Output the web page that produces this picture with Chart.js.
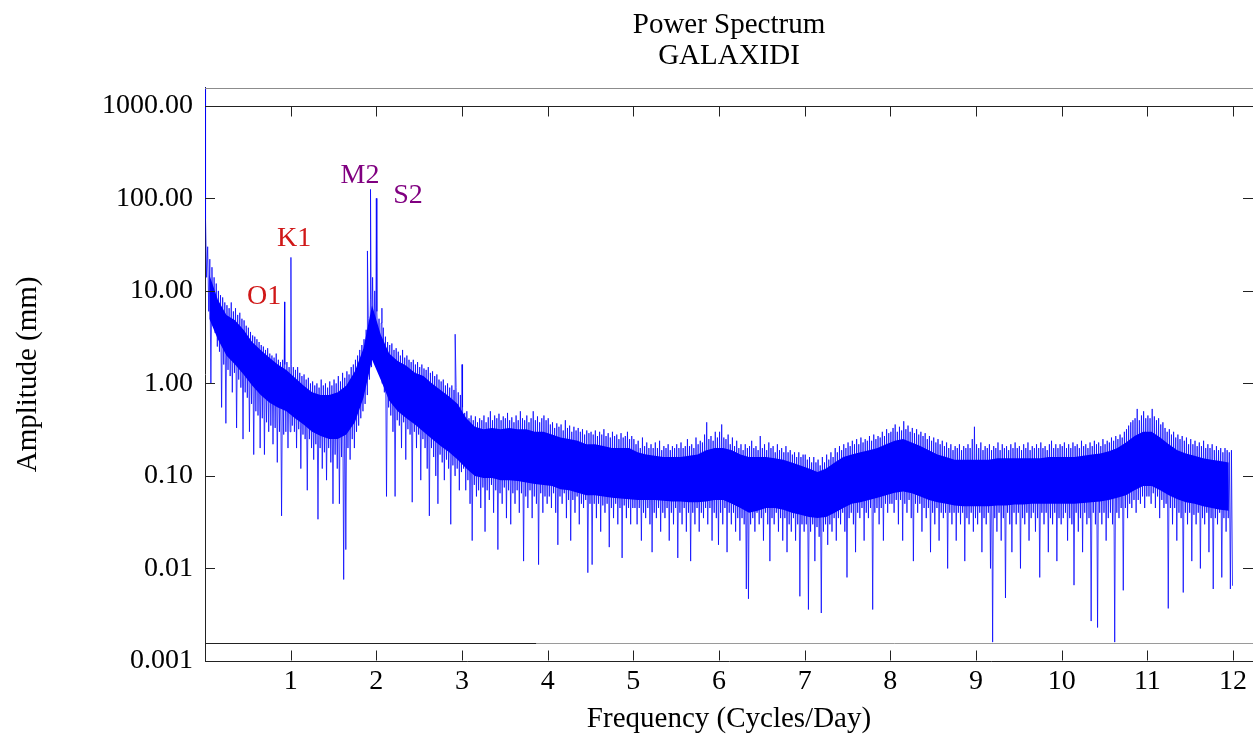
<!DOCTYPE html>
<html>
<head>
<meta charset="utf-8">
<title>Power Spectrum - GALAXIDI</title>
<script src="https://cdn.jsdelivr.net/npm/chart.js@4.4.1/dist/chart.umd.min.js"></script>
<style>
    html, body { margin: 0; padding: 0; background: #fff; }
    canvas { display: block; }
</style>
</head>
<body>
<canvas id="spectrum-chart" width="1253" height="737"></canvas>
<script>
// Values alternate between the upper fringe of the noise and its downward spikes.
var freqStep = 0.0125;
var amp0 = [60, 14, 30, 6, 22, 1.0, 18, 4.5, 14, 3.5, 12, 2.5, 10, 2.2, 9, 0.55, 8.5, 1.6, 7.5, 0.37,
            7, 1.4, 6.5, 1.2, 7.5, 0.8, 6, 1.3, 6.5, 0.33, 5.5, 1.1, 5.8, 0.9, 5, 0.25, 4.8, 0.8, 4.2, 0.7,
            4, 0.3, 3.6, 0.6, 3.3, 0.17, 3.2, 0.5, 3, 0.45, 2.8, 0.2, 2.6, 0.42, 2.5, 0.17, 2.3, 0.38, 2.4, 0.3,
            2.1, 0.35, 2.0, 0.22, 1.9, 0.33, 2.1, 0.14, 1.8, 0.3, 1.7, 0.037, 1.8, 0.28, 1.6, 0.3, 1.7, 0.2, 1.5, 0.3];
var amp1 = [1.6, 0.35, 1.5, 0.3, 1.4, 0.2, 1.5, 0.32, 1.3, 0.12, 1.2, 0.28, 1.25, 0.25, 1.1, 0.07, 1.15, 0.25, 1.0, 0.2,
            1.05, 0.15, 0.95, 0.22, 1.0, 0.034, 0.9, 0.2, 1.1, 0.12, 0.95, 0.18, 1.0, 0.09, 0.9, 0.2, 1.05, 0.14, 0.95, 0.05,
            1.1, 0.17, 1.0, 0.12, 1.2, 0.05, 1.05, 0.16, 1.3, 0.0076, 1.15, 0.016, 1.35, 0.2, 1.25, 0.15, 1.5, 0.25, 1.6, 0.2,
            1.8, 0.3, 2.0, 0.35, 2.3, 0.42, 2.6, 0.5, 3.0, 0.6, 3.8, 0.75, 5, 1.1, 8, 1.5, 14, 2.0, 10, 2.5];
var amp2 = [6, 2.0, 5, 1.4, 4.5, 1.0, 4, 0.8, 3.2, 0.06, 2.8, 0.55, 2.6, 0.45, 2.7, 0.3, 2.3, 0.06, 2.4, 0.4,
            2.2, 0.35, 2.0, 0.2, 2.3, 0.38, 1.9, 0.15, 2.0, 0.32, 1.8, 0.28, 1.7, 0.052, 1.8, 0.3, 1.6, 0.2, 1.7, 0.28,
            1.5, 0.09, 1.6, 0.25, 1.45, 0.2, 1.4, 0.12, 1.5, 0.037, 1.3, 0.2, 1.35, 0.16, 1.2, 0.1, 1.25, 0.05, 1.1, 0.17,
            1.05, 0.14, 1.1, 0.09, 0.95, 0.15, 1.0, 0.12, 0.9, 0.03, 0.95, 0.13, 0.85, 0.1, 0.9, 0.12, 0.8, 0.07, 0.75, 0.11];
var amp3 = [0.55, 0.12, 0.48, 0.07, 0.5, 0.09, 0.42, 0.05, 0.45, 0.02, 0.4, 0.08, 0.44, 0.06, 0.38, 0.07, 0.42, 0.045, 0.4, 0.075,
            0.45, 0.025, 0.38, 0.07, 0.43, 0.055, 0.5, 0.08, 0.4, 0.04, 0.45, 0.07, 0.42, 0.016, 0.47, 0.065, 0.4, 0.05, 0.44, 0.075,
            0.42, 0.035, 0.48, 0.07, 0.4, 0.03, 0.43, 0.065, 0.38, 0.05, 0.45, 0.07, 0.4, 0.04, 0.5, 0.065, 0.42, 0.012, 0.4, 0.06,
            0.45, 0.045, 0.38, 0.07, 0.42, 0.035, 0.5, 0.06, 0.4, 0.05, 0.44, 0.011, 0.38, 0.065, 0.42, 0.04, 0.45, 0.06, 0.4, 0.05];
var amp4 = [0.42, 0.06, 0.36, 0.045, 0.38, 0.065, 0.33, 0.04, 0.37, 0.018, 0.34, 0.06, 0.36, 0.05, 0.31, 0.065, 0.4, 0.035, 0.33, 0.055,
            0.35, 0.02, 0.3, 0.055, 0.34, 0.04, 0.31, 0.06, 0.33, 0.03, 0.3, 0.05, 0.32, 0.045, 0.28, 0.055, 0.31, 0.009, 0.29, 0.05,
            0.3, 0.011, 0.28, 0.05, 0.31, 0.035, 0.27, 0.05, 0.3, 0.025, 0.28, 0.048, 0.32, 0.04, 0.27, 0.05, 0.29, 0.017, 0.26, 0.045,
            0.3, 0.035, 0.27, 0.05, 0.28, 0.03, 0.25, 0.045, 0.29, 0.013, 0.26, 0.048, 0.27, 0.035, 0.3, 0.045, 0.25, 0.03, 0.27, 0.045];
var amp5 = [0.25, 0.045, 0.22, 0.03, 0.24, 0.045, 0.2, 0.02, 0.26, 0.04, 0.21, 0.035, 0.23, 0.045, 0.2, 0.03, 0.22, 0.015, 0.2, 0.04,
            0.23, 0.035, 0.2, 0.045, 0.24, 0.025, 0.19, 0.04, 0.21, 0.035, 0.2, 0.045, 0.22, 0.02, 0.19, 0.04, 0.21, 0.03, 0.2, 0.045,
            0.22, 0.013, 0.2, 0.04, 0.23, 0.03, 0.2, 0.045, 0.21, 0.025, 0.25, 0.04, 0.21, 0.012, 0.22, 0.04, 0.2, 0.03, 0.26, 0.045,
            0.22, 0.025, 0.24, 0.04, 0.23, 0.035, 0.28, 0.045, 0.38, 0.03, 0.25, 0.045, 0.27, 0.02, 0.24, 0.04, 0.3, 0.035, 0.26, 0.018];
var amp6 = [0.3, 0.04, 0.36, 0.03, 0.26, 0.045, 0.25, 0.015, 0.28, 0.04, 0.22, 0.03, 0.26, 0.04, 0.21, 0.025, 0.24, 0.035, 0.2, 0.02,
            0.22, 0.035, 0.19, 0.03, 0.22, 0.006, 0.2, 0.0047, 0.21, 0.03, 0.24, 0.035, 0.2, 0.025, 0.21, 0.04, 0.19, 0.03, 0.27, 0.035,
            0.2, 0.02, 0.22, 0.04, 0.19, 0.03, 0.23, 0.012, 0.2, 0.035, 0.21, 0.03, 0.18, 0.04, 0.22, 0.025, 0.19, 0.035, 0.2, 0.02,
            0.18, 0.035, 0.21, 0.015, 0.18, 0.03, 0.19, 0.025, 0.17, 0.035, 0.18, 0.02, 0.16, 0.03, 0.18, 0.005, 0.16, 0.03, 0.17, 0.025];
var amp7 = [0.17, 0.03, 0.15, 0.0036, 0.16, 0.025, 0.14, 0.03, 0.16, 0.012, 0.14, 0.028, 0.15, 0.022, 0.13, 0.0033, 0.16, 0.025, 0.14, 0.03,
            0.17, 0.018, 0.15, 0.03, 0.18, 0.025, 0.16, 0.035, 0.2, 0.02, 0.18, 0.035, 0.21, 0.03, 0.19, 0.04, 0.22, 0.025, 0.2, 0.008,
            0.23, 0.035, 0.21, 0.04, 0.24, 0.03, 0.22, 0.015, 0.25, 0.04, 0.22, 0.035, 0.26, 0.045, 0.23, 0.02, 0.25, 0.04, 0.24, 0.035,
            0.27, 0.045, 0.24, 0.0036, 0.28, 0.04, 0.25, 0.045, 0.27, 0.03, 0.26, 0.045, 0.3, 0.02, 0.27, 0.05, 0.32, 0.04, 0.29, 0.05];
var amp8 = [0.3, 0.05, 0.33, 0.04, 0.36, 0.055, 0.3, 0.03, 0.34, 0.055, 0.31, 0.02, 0.39, 0.05, 0.32, 0.04, 0.35, 0.055, 0.3, 0.035,
            0.33, 0.012, 0.29, 0.05, 0.32, 0.04, 0.28, 0.05, 0.3, 0.025, 0.27, 0.045, 0.29, 0.035, 0.25, 0.045, 0.27, 0.015, 0.24, 0.04,
            0.26, 0.03, 0.23, 0.045, 0.25, 0.02, 0.22, 0.04, 0.24, 0.035, 0.21, 0.04, 0.23, 0.01, 0.2, 0.04, 0.22, 0.03, 0.19, 0.04,
            0.21, 0.02, 0.2, 0.04, 0.22, 0.03, 0.19, 0.04, 0.21, 0.012, 0.2, 0.035, 0.22, 0.03, 0.2, 0.04, 0.25, 0.025, 0.34, 0.035];
var amp9 = [0.22, 0.03, 0.2, 0.04, 0.23, 0.015, 0.19, 0.035, 0.21, 0.03, 0.2, 0.04, 0.22, 0.01, 0.19, 0.0016, 0.21, 0.035, 0.2, 0.025,
            0.23, 0.04, 0.19, 0.02, 0.22, 0.035, 0.2, 0.0048, 0.21, 0.04, 0.19, 0.03, 0.22, 0.015, 0.2, 0.04, 0.23, 0.03, 0.2, 0.04,
            0.21, 0.01, 0.19, 0.035, 0.22, 0.03, 0.2, 0.04, 0.23, 0.02, 0.19, 0.035, 0.21, 0.04, 0.2, 0.025, 0.22, 0.035, 0.2, 0.008,
            0.23, 0.04, 0.2, 0.03, 0.21, 0.04, 0.19, 0.015, 0.22, 0.035, 0.24, 0.03, 0.2, 0.04, 0.22, 0.012, 0.2, 0.035, 0.22, 0.03];
var amp10 = [0.21, 0.035, 0.23, 0.04, 0.2, 0.02, 0.22, 0.035, 0.2, 0.03, 0.23, 0.0066, 0.21, 0.04, 0.22, 0.025, 0.2, 0.035, 0.24, 0.015,
             0.21, 0.04, 0.22, 0.03, 0.2, 0.035, 0.23, 0.0027, 0.21, 0.04, 0.24, 0.03, 0.22, 0.0023, 0.23, 0.04, 0.21, 0.03, 0.25, 0.04,
             0.22, 0.02, 0.24, 0.035, 0.23, 0.04, 0.26, 0.03, 0.24, 0.0016, 0.27, 0.04, 0.25, 0.035, 0.28, 0.045, 0.26, 0.0058, 0.3, 0.045,
             0.32, 0.035, 0.35, 0.05, 0.38, 0.045, 0.4, 0.055, 0.42, 0.04, 0.53, 0.055, 0.4, 0.05, 0.45, 0.06, 0.5, 0.045, 0.42, 0.06];
var amp11 = [0.45, 0.06, 0.42, 0.05, 0.53, 0.065, 0.44, 0.045, 0.4, 0.06, 0.42, 0.035, 0.36, 0.055, 0.38, 0.045, 0.33, 0.05, 0.3, 0.0037,
             0.32, 0.045, 0.28, 0.03, 0.3, 0.045, 0.26, 0.02, 0.28, 0.04, 0.25, 0.035, 0.27, 0.0055, 0.24, 0.04, 0.26, 0.03, 0.22, 0.04,
             0.25, 0.012, 0.22, 0.038, 0.24, 0.03, 0.21, 0.04, 0.23, 0.01, 0.21, 0.035, 0.24, 0.03, 0.2, 0.04, 0.22, 0.015, 0.2, 0.035,
             0.22, 0.006, 0.19, 0.035, 0.21, 0.03, 0.19, 0.04, 0.2, 0.008, 0.18, 0.035, 0.2, 0.025, 0.19, 0.035, 0.18, 0.006, 0.19, 0.0065];
var ampSegments = [amp0, amp1, amp2, amp3, amp4, amp5, amp6, amp7, amp8, amp9, amp10, amp11];

// the solid core of the noise band, every 0.1 c/d starting at 0.05
var coreStep = 0.1;
var coreTop = [15, 8, 5.5, 4.8, 3.8, 2.8, 2.3, 1.9, 1.6, 1.4,
               1.15, 0.95, 0.8, 0.75, 0.75, 0.8, 0.95, 1.35, 2.4, 7,
               3.4, 2.1, 1.75, 1.55, 1.3, 1.2, 1.0, 0.85, 0.72, 0.6,
               0.42, 0.34, 0.32, 0.33, 0.32, 0.33, 0.32, 0.32, 0.3, 0.3,
               0.28, 0.26, 0.25, 0.24, 0.22, 0.22, 0.21, 0.2, 0.2, 0.2,
               0.18, 0.17, 0.165, 0.16, 0.16, 0.16, 0.165, 0.17, 0.19, 0.2,
               0.2, 0.19, 0.17, 0.16, 0.16, 0.16, 0.155, 0.15, 0.14, 0.13,
               0.12, 0.11, 0.12, 0.14, 0.16, 0.17, 0.18, 0.19, 0.2, 0.22,
               0.24, 0.25, 0.23, 0.21, 0.19, 0.17, 0.16, 0.15, 0.15, 0.15,
               0.15, 0.15, 0.155, 0.155, 0.155, 0.155, 0.155, 0.155, 0.16, 0.16,
               0.16, 0.16, 0.165, 0.17, 0.175, 0.185, 0.2, 0.23, 0.27, 0.3,
               0.3, 0.26, 0.22, 0.19, 0.175, 0.165, 0.155, 0.15, 0.145, 0.14];
var coreBottom = [5, 3, 2.0, 1.6, 1.25, 0.95, 0.75, 0.62, 0.55, 0.5,
                  0.42, 0.36, 0.3, 0.27, 0.25, 0.25, 0.28, 0.38, 0.7, 1.8,
                  1.1, 0.65, 0.5, 0.42, 0.36, 0.3, 0.25, 0.21, 0.18, 0.15,
                  0.12, 0.1, 0.095, 0.095, 0.09, 0.09, 0.088, 0.085, 0.082, 0.08,
                  0.078, 0.072, 0.07, 0.066, 0.062, 0.062, 0.06, 0.058, 0.057, 0.056,
                  0.055, 0.055, 0.055, 0.054, 0.053, 0.053, 0.052, 0.052, 0.053, 0.055,
                  0.055, 0.05, 0.045, 0.04, 0.042, 0.045, 0.045, 0.043, 0.04, 0.038,
                  0.036, 0.035, 0.036, 0.04, 0.045, 0.05, 0.052, 0.055, 0.058, 0.062,
                  0.066, 0.068, 0.065, 0.06, 0.055, 0.052, 0.05, 0.048, 0.047, 0.047,
                  0.047, 0.047, 0.048, 0.048, 0.049, 0.049, 0.05, 0.05, 0.05, 0.05,
                  0.05, 0.05, 0.051, 0.052, 0.053, 0.055, 0.058, 0.062, 0.07, 0.078,
                  0.078, 0.07, 0.062, 0.056, 0.052, 0.05, 0.047, 0.045, 0.043, 0.042];

// narrow lines: the zero-frequency term, O1, K1, N2, M2, S2 and a few smaller spikes
var peakFreqs = [0, 0.929, 1.003, 1.896, 1.932, 2.0, 2.065, 2.92, 3.0];
var peakAmps = [3000, 7.6, 23, 27, 125, 100, 6.5, 3.4, 1.6];

// constituent labels and where they sit (cycles/day, mm)
var constituentNames = ['O1', 'K1', 'M2', 'S2'];
var constituentColors = ['#d01818', '#d01818', '#800080', '#800080'];
var labelFreqs = [0.69, 1.04, 1.81, 2.37];
var labelAmps = [8.7, 37, 177, 108];

var xTickValues = [1, 2, 3, 4, 5, 6, 7, 8, 9, 10, 11, 12];
var yTickValues = [0.001, 0.01, 0.1, 1, 10, 100, 1000];
var yTickLabels = ['0.001', '0.01', '0.10', '1.00', '10.00', '100.00', '1000.00'];

var serif = '"Liberation Serif", "Times New Roman", serif';
Chart.defaults.font.family = serif;
Chart.defaults.color = '#000';

// build the point lists from the arrays above
var points = [];
ampSegments.forEach(function (seg, k) {
    seg.forEach(function (a, i) {
        points.push({ x: k + (i + 0.5) * freqStep, y: a });
    });
});
peakFreqs.forEach(function (f, i) {
    points.push({ x: f, y: peakAmps[i] });
});
points.sort(function (a, b) { return a.x - b.x; });

var corePointsTop = coreTop.map(function (v, i) { return { x: (i + 0.5) * coreStep, y: v }; });
var corePointsBottom = coreBottom.map(function (v, i) { return { x: (i + 0.5) * coreStep, y: v }; });

function hline(c, x1, x2, y) {
    c.beginPath(); c.moveTo(x1, y); c.lineTo(x2, y); c.stroke();
}
function vline(c, x, y1, y2) {
    c.beginPath(); c.moveTo(x, y1); c.lineTo(x, y2); c.stroke();
}

// frame rules, inward ticks and the constituent names
var frameAndLabels = {
    id: 'frameAndLabels',
    afterDatasetsDraw: function (chart) {
        var c = chart.ctx;
        var area = chart.chartArea;
        var xs = chart.scales.x;
        var ys = chart.scales.y;
        var tickLen = 10;
        c.save();
        c.lineWidth = 1;

        c.strokeStyle = '#8c8c8c';
        hline(c, area.left, area.right, Math.round(area.top) + 0.5);

        var yUpper = Math.round(ys.getPixelForValue(1000)) + 0.5;
        var yLower = Math.round(ys.getPixelForValue(0.00157)) + 0.5;
        var xSplit = xs.getPixelForValue(3.87);
        var yBottom = Math.round(area.bottom) - 0.5;

        c.strokeStyle = '#222';
        hline(c, area.left, area.right, yUpper);
        hline(c, area.left, xSplit, yLower);
        xTickValues.forEach(function (v) {
            var x = Math.round(xs.getPixelForValue(v)) + 0.5;
            vline(c, x, yUpper, yUpper + tickLen);
            vline(c, x, yBottom, yBottom - tickLen);
        });
        yTickValues.forEach(function (v) {
            var y = Math.round(ys.getPixelForValue(v)) + 0.5;
            hline(c, area.left, area.left + tickLen, y);
            hline(c, area.right - tickLen, area.right, y);
        });
        c.strokeStyle = '#9a9a9a';
        hline(c, xSplit, area.right, yLower);

        c.font = '28px ' + serif;
        c.textAlign = 'center';
        c.textBaseline = 'middle';
        constituentNames.forEach(function (name, i) {
            c.fillStyle = constituentColors[i];
            c.fillText(name, xs.getPixelForValue(labelFreqs[i]), ys.getPixelForValue(labelAmps[i]));
        });
        c.restore();
    }
};

var ctx = document.getElementById('spectrum-chart').getContext('2d');
var spectrumChart = new Chart(ctx, {
    type: 'line',
    data: {
        datasets: [{
            label: 'Core top',
            data: corePointsTop,
            borderWidth: 0,
            pointRadius: 0,
            fill: false
        }, {
            label: 'Core bottom',
            data: corePointsBottom,
            backgroundColor: 'rgb(0, 0, 255)',
            borderWidth: 0,
            pointRadius: 0,
            fill: '-1'
        }, {
            label: 'Amplitude',
            data: points,
            borderColor: 'rgba(0, 0, 255, 0.75)',
            borderWidth: 1,
            pointRadius: 0,
            tension: 0,
            fill: false
        }]
    },
    options: {
        responsive: false,
        animation: false,
        devicePixelRatio: 1,
        layout: { padding: 0 },
        plugins: {
            legend: { display: false },
            tooltip: { enabled: false },
            title: {
                display: true,
                fullSize: false,
                text: ['Power Spectrum', 'GALAXIDI'],
                color: '#000',
                font: { family: serif, size: 29, weight: 'normal', lineHeight: 1.1 },
                padding: { top: 9, bottom: 15 }
            }
        },
        scales: {
            x: {
                type: 'linear',
                min: 0,
                max: 12.233,
                afterBuildTicks: function (scale) {
                    scale.ticks = xTickValues.map(function (v) { return { value: v }; });
                },
                afterFit: function (scale) { scale.height = 76; },
                grid: { display: false, drawTicks: false },
                border: { display: true, color: '#222', width: 1 },
                ticks: {
                    padding: 4,
                    autoSkip: false,
                    maxRotation: 0,
                    color: '#000',
                    font: { family: serif, size: 28 },
                    callback: function (v) { return String(v); }
                },
                title: {
                    display: true,
                    text: 'Frequency (Cycles/Day)',
                    color: '#000',
                    font: { family: serif, size: 29 },
                    padding: { top: 0, bottom: 0 }
                }
            },
            y: {
                type: 'logarithmic',
                min: 0.001,
                max: 1565,
                afterBuildTicks: function (scale) {
                    scale.ticks = yTickValues.map(function (v) { return { value: v }; });
                },
                afterFit: function (scale) { scale.width = 205; },
                grid: { display: false, drawTicks: false },
                border: { display: true, color: '#222', width: 1 },
                ticks: {
                    padding: 12,
                    autoSkip: false,
                    color: '#000',
                    font: { family: serif, size: 28 },
                    callback: function (v, i) { return yTickLabels[i]; }
                },
                title: {
                    display: true,
                    text: 'Amplitude (mm)',
                    color: '#000',
                    font: { family: serif, size: 29 },
                    padding: { top: 11, bottom: 0 }
                }
            }
        }
    },
    plugins: [frameAndLabels]
});
</script>
</body>
</html>
